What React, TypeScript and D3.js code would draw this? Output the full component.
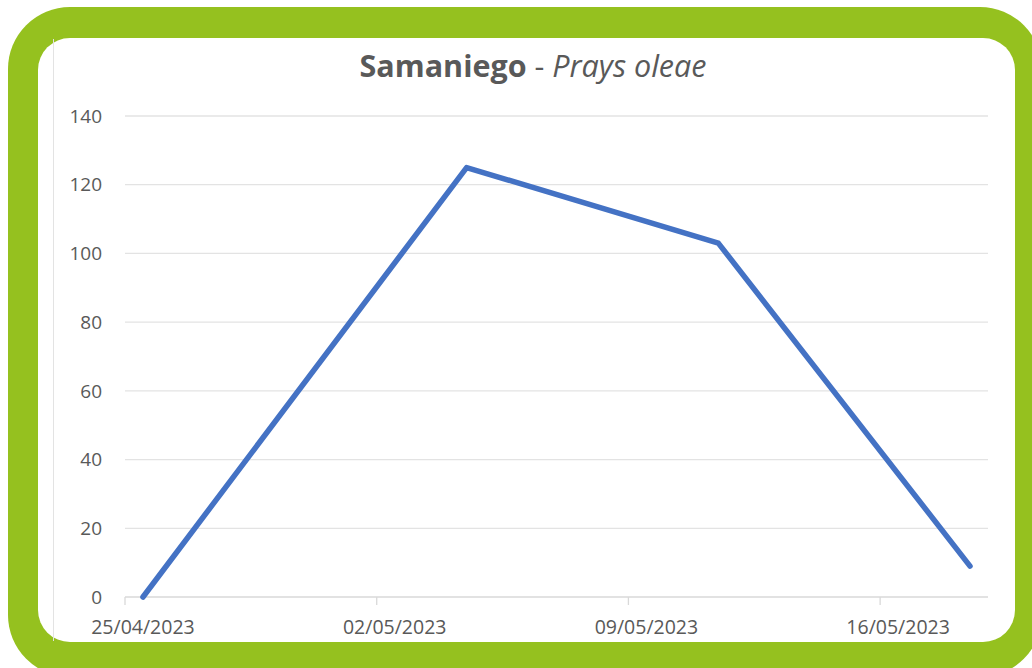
import React from 'react';
import * as d3 from 'd3';

// Captures (Prays oleae) – Samaniego
const dates = ['2023-04-25', '2023-05-04', '2023-05-11', '2023-05-18'];
const values = [0, 125, 103, 9];
const yTicks = [0, 20, 40, 60, 80, 100, 120, 140];
const xTickDates = ['2023-04-25', '2023-05-02', '2023-05-09', '2023-05-16'];
const axisStart = '2023-04-25';
const axisEnd = '2023-05-19';

const W = 1032;
const H = 668;
const margin = { top: 116, right: 44, bottom: 71, left: 125 };
const DAY = 864e5;

const parse = (s: string) => new Date(s + 'T00:00:00Z');
const midDay = (s: string) => new Date(parse(s).getTime() + DAY / 2);
const fmt = d3.utcFormat('%d/%m/%Y');

const App = () => {
  const x = d3.scaleUtc()
    .domain([parse(axisStart), parse(axisEnd)])
    .range([margin.left, W - margin.right]);
  const y = d3.scaleLinear()
    .domain([0, 140])
    .range([H - margin.bottom, margin.top]);

  // Excel date axis puts each point (and label) in the middle of its day
  const points = dates.map((d, i) => ({ date: midDay(d), value: values[i] }));
  const line = d3.line<{ date: Date; value: number }>()
    .x(d => x(d.date))
    .y(d => y(d.value));

  const gray = '#595959';
  const font = '"Open Sans", sans-serif';

  return (
    <svg width={W} height={H} style={{ position: 'absolute', left: 0, top: 0, display: 'block', background: '#fff' }}>
      {/* green frame */}
      <rect x={8} y={7} width={1034} height={670} rx={62} fill="#95C11F" />
      <rect x={38} y={38} width={977} height={604} rx={32} fill="#fff" />
      <line x1={53.5} x2={53.5} y1={39} y2={641} stroke="#e3e3e3" strokeWidth={1} />

      {/* title */}
      <text x={533} y={77} textAnchor="middle" fontFamily={font} fontSize={30.5} fill={gray}>
        <tspan fontWeight="bold">Samaniego</tspan>
        <tspan> - </tspan>
        <tspan fontStyle="italic">Prays oleae</tspan>
      </text>

      {/* gridlines + y labels */}
      {yTicks.map(t => (
        <g key={t}>
          <line x1={margin.left} x2={W - margin.right} y1={y(t)} y2={y(t)}
            stroke={t === 0 ? '#d9d9d9' : '#e3e3e3'} strokeWidth={1.3} />
          <text x={102} y={y(t)} dy="0.35em" textAnchor="end" fontFamily={font} fontSize={19} fill={gray}>{t}</text>
        </g>
      ))}

      {/* x ticks */}
      {xTickDates.map(d => {
        const xp = x(parse(d));
        return (
          <g key={d}>
            <line x1={xp} x2={xp} y1={y(0)} y2={y(0) + 8} stroke="#d9d9d9" strokeWidth={1.3} />
            <text x={x(midDay(d))} y={634} textAnchor="middle" fontFamily={font} fontSize={19.5} fill={gray}>{fmt(parse(d))}</text>
          </g>
        );
      })}

      {/* series */}
      <path d={line(points) || ''} fill="none" stroke="#4472C4" strokeWidth={5.5} strokeLinejoin="round" strokeLinecap="round" />
    </svg>
  );
};

export default App;
